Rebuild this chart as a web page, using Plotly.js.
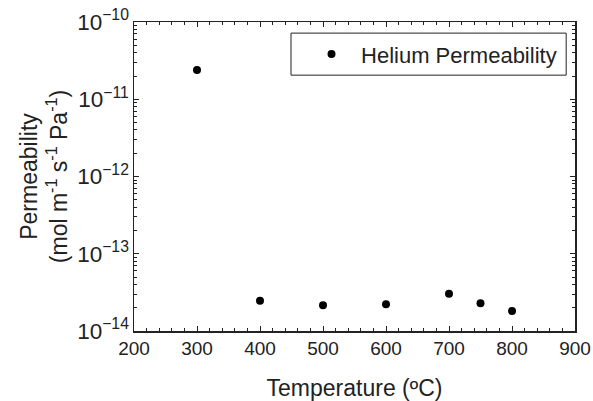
<!DOCTYPE html>
<html>
<head>
<meta charset="utf-8">
<script src="https://cdn.plot.ly/plotly-3.0.1.min.js"></script>
<style>html,body{margin:0;padding:0;background:#fff;}#chart{width:593px;height:401px;}</style>
</head>
<body>
<div id="chart"></div>
<script>
const temperatures = [300, 400, 500, 600, 700, 750, 800];
const permeability = [2.4e-11, 2.47e-14, 2.15e-14, 2.22e-14, 3.04e-14, 2.28e-14, 1.81e-14];
const seriesName = "Helium Permeability";
const xTickVals = [200, 300, 400, 500, 600, 700, 800, 900];

const trace = {
  x: temperatures,
  y: permeability,
  type: 'scatter',
  mode: 'markers',
  name: seriesName,
  marker: {color: '#000', size: 8}
};

const axisCommon = {
  showline: true, linecolor: '#222', linewidth: 1.5, mirror: 'ticks',
  ticks: 'inside', ticklen: 5, tickwidth: 1, tickcolor: '#222',
  showgrid: false, zeroline: false
};

const layout = {
  width: 593, height: 401,
  margin: {l: 134, r: 18, t: 22, b: 70},
  paper_bgcolor: '#fff', plot_bgcolor: '#fff',
  font: {family: 'Liberation Sans, Arial, sans-serif', color: '#222'},
  xaxis: Object.assign({}, axisCommon, {
    range: [200, 900], tickvals: xTickVals,
    tickfont: {family: 'Liberation Sans, Arial, sans-serif', size: 19, color: '#222'},
    minor: {ticks: 'inside', dtick: 20, ticklen: 3, tickcolor: '#222', tickwidth: 1},
    title: {text: 'Temperature (ºC)', font: {size: 23, color: '#222'}, standoff: 22}
  }),
  yaxis: Object.assign({}, axisCommon, {
    type: 'log', range: [-14, -10], dtick: 1, exponentformat: 'power',
    tickfont: {family: 'Liberation Sans, Arial, sans-serif', size: 18, color: '#222'},
    minor: {ticks: 'inside', dtick: 'D1', ticklen: 3, tickcolor: '#222', tickwidth: 1},
    title: {text: 'Permeability<br>(mol m<sup>-1</sup> s<sup>-1</sup> Pa<sup>-1</sup>)', font: {size: 23, color: '#222'}, standoff: 3}
  }),
  shapes: [{
    type: 'rect', xref: 'paper', yref: 'paper',
    x0: 0.356, x1: 0.980, y0: 0.828, y1: 0.964,
    line: {color: '#222', width: 1}, fillcolor: 'rgba(0,0,0,0)'
  }],
  showlegend: true,
  legend: {
    x: 0.381, y: 0.896, xanchor: 'left', yanchor: 'middle',
    bgcolor: 'rgba(0,0,0,0)', borderwidth: 0,
    font: {size: 22, color: '#222'},
    itemwidth: 49
  }
};

Plotly.newPlot('chart', [trace], layout, {displayModeBar: false, staticPlot: true});
</script>
</body>
</html>
